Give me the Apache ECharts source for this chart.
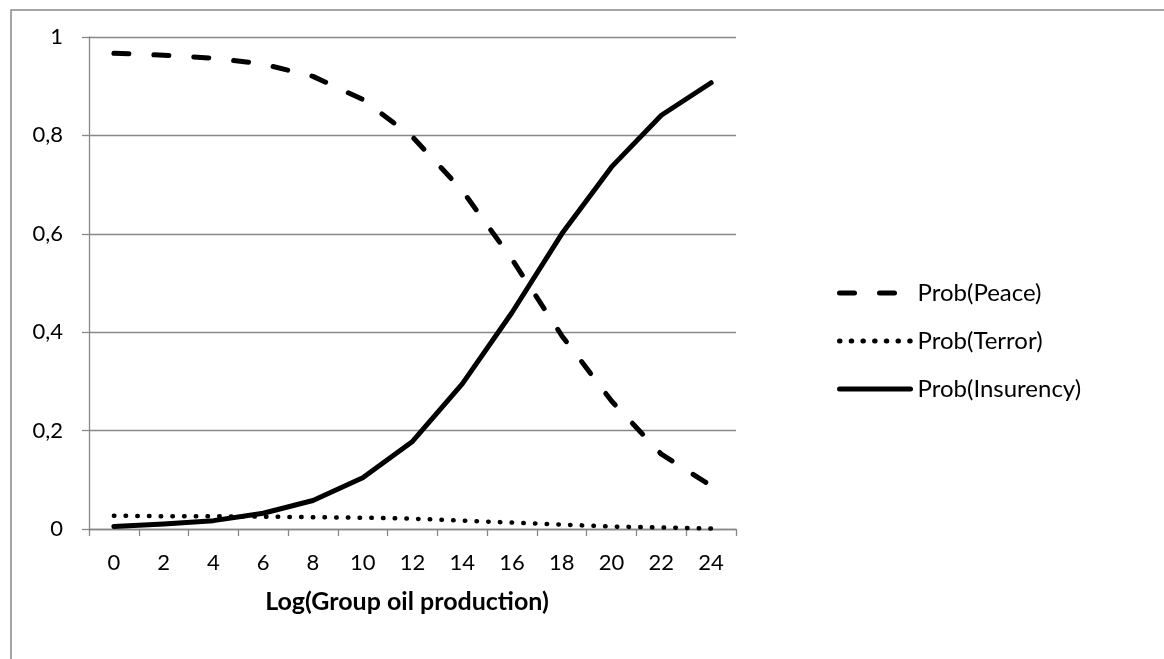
<!DOCTYPE html>
<html>
<head>
<meta charset="utf-8">
<script src="https://cdn.jsdelivr.net/npm/echarts@6/dist/echarts.min.js"></script>
<style>
  html, body { margin: 0; padding: 0; background: #fff; }
  #chart { width: 1164px; height: 659px; }
</style>
</head>
<body>
<div id="chart"></div>
<script>
// x categories: Log(Group oil production)
const categories = ['0', '2', '4', '6', '8', '10', '12', '14', '16', '18', '20', '22', '24'];
// probabilities
const peace = [0.967, 0.963, 0.957, 0.945, 0.92, 0.873, 0.797, 0.688, 0.548, 0.393, 0.26, 0.152, 0.088];
const terror = [0.027, 0.026, 0.026, 0.025, 0.024, 0.023, 0.021, 0.017, 0.013, 0.009, 0.005, 0.003, 0.001];
const insurgency = [0.005, 0.01, 0.017, 0.032, 0.058, 0.104, 0.178, 0.295, 0.44, 0.6, 0.736, 0.841, 0.907];

const FONT = 'Lato';
const GREY = '#888888';

const chart = echarts.init(document.getElementById('chart'));

const option = {
  animation: false,
  backgroundColor: '#fff',
  textStyle: { fontFamily: FONT, color: '#000' },
  title: {
    text: 'Log(Group oil production)',
    left: 402,
    top: 584,
    textAlign: 'center',
    textStyle: { fontFamily: FONT, fontSize: 25, fontWeight: 'bold', color: '#000' }
  },
  grid: { left: 89, top: 37, right: 428, bottom: 130 },
  legend: {
    orient: 'vertical',
    left: 832,
    top: 276,
    itemWidth: 71,
    itemHeight: 24,
    itemGap: 24,
    // hide the round marker ECharts puts on line-series legend icons
    itemStyle: { color: 'rgba(0,0,0,0)', borderWidth: 0 },
    lineStyle: { width: 5, cap: 'round' },
    textStyle: { fontFamily: FONT, fontSize: 24, color: '#000', padding: [0, 0, 0, 2] },
    data: ['Prob(Peace)', 'Prob(Terror)', 'Prob(Insurency)']
  },
  xAxis: {
    type: 'category',
    data: categories,
    boundaryGap: true,
    axisLine: { lineStyle: { color: GREY, width: 1.3 } },
    axisTick: { show: true, length: 7, lineStyle: { color: GREY, width: 1.3 } },
    axisLabel: { interval: 0, margin: 23, fontFamily: FONT, fontSize: 22, color: '#000' },
    splitLine: { show: false }
  },
  yAxis: {
    type: 'value',
    min: 0,
    max: 1,
    interval: 0.2,
    axisLine: { show: true, lineStyle: { color: GREY, width: 1.3 } },
    axisTick: { show: true, length: 7, lineStyle: { color: GREY, width: 1.3 } },
    axisLabel: {
      margin: 26,
      fontFamily: FONT,
      fontSize: 22,
      color: '#000',
      formatter: v => String(Math.round(v * 10) / 10).replace('.', ',')
    },
    splitLine: { lineStyle: { color: GREY, width: 1.3 } }
  },
  graphic: [
    {
      type: 'rect',
      shape: { x: 11, y: 10, width: 1400, height: 900 },
      style: { fill: 'none', stroke: GREY, lineWidth: 1.5 },
      silent: true
    }
  ],
  series: [
    {
      name: 'Prob(Peace)',
      type: 'line',
      data: peace,
      symbol: 'none',
      color: '#000',
      lineStyle: { color: '#000', width: 5, type: [15, 25], cap: 'round' }
    },
    {
      name: 'Prob(Terror)',
      type: 'line',
      data: terror,
      symbol: 'none',
      color: '#000',
      lineStyle: { color: '#000', width: 4.5, type: [0.5, 11.2], cap: 'round' }
    },
    {
      name: 'Prob(Insurency)',
      type: 'line',
      data: insurgency,
      symbol: 'none',
      color: '#000',
      lineStyle: { color: '#000', width: 5, type: 'solid', cap: 'round', join: 'round' }
    }
  ]
};

chart.setOption(option);
</script>
</body>
</html>
